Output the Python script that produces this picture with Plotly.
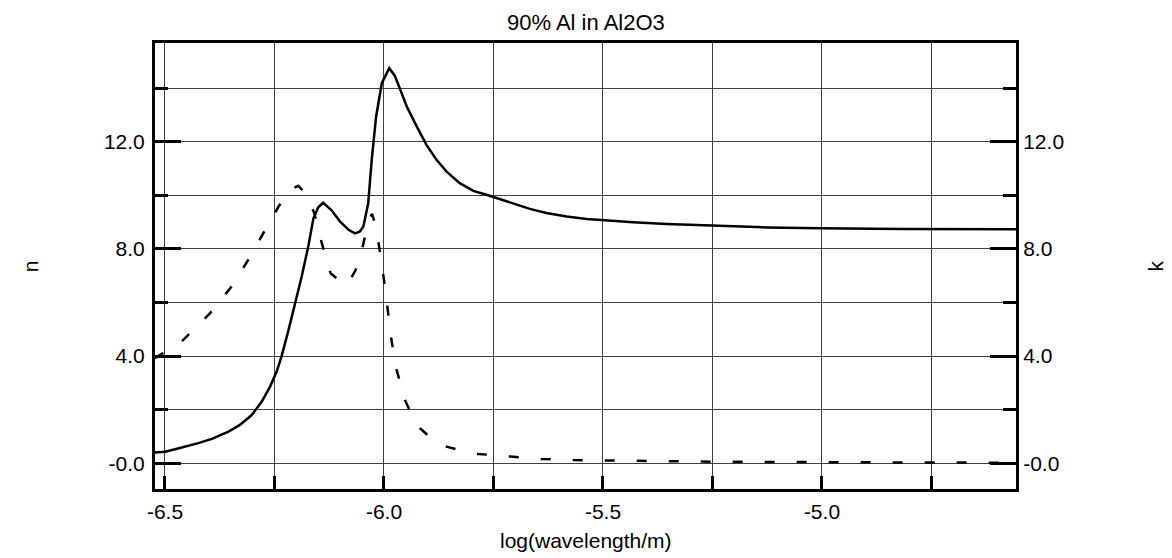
import plotly.graph_objects as go

# n (solid) : log(wavelength/m) vs n
n_x = [-6.523, -6.500, -6.477, -6.447, -6.424, -6.393, -6.355, -6.329, -6.302, -6.279,
       -6.260, -6.245, -6.234, -6.218, -6.203, -6.188, -6.173, -6.161, -6.150, -6.139,
       -6.120, -6.100, -6.080, -6.066, -6.055, -6.047, -6.036, -6.028, -6.018, -6.005,
       -5.988, -5.975, -5.963, -5.948, -5.925, -5.903, -5.880, -5.857, -5.827, -5.796,
       -5.766, -5.740, -5.705, -5.667, -5.629, -5.583, -5.537, -5.507, -5.476, -5.431,
       -5.355, -5.252, -5.126, -5.005, -4.822, -4.557]
n_y = [0.40, 0.43, 0.52, 0.64, 0.75, 0.91, 1.18, 1.43, 1.80, 2.30,
       2.86, 3.42, 3.98, 4.97, 5.97, 6.96, 8.08, 9.14, 9.55, 9.72,
       9.45, 9.01, 8.70, 8.58, 8.65, 8.83, 9.70, 11.32, 12.93, 14.18,
       14.74, 14.45, 13.95, 13.31, 12.56, 11.88, 11.32, 10.88, 10.45, 10.16,
       10.02, 9.88, 9.68, 9.49, 9.34, 9.21, 9.11, 9.07, 9.03, 8.99,
       8.93, 8.86, 8.80, 8.77, 8.74, 8.73]

# k (dashed)
k_x = [-6.523, -6.462, -6.397, -6.348, -6.310, -6.276, -6.241, -6.215, -6.196, -6.180,
       -6.159, -6.142, -6.122, -6.100, -6.084, -6.065, -6.051, -6.035, -6.027, -6.020,
       -6.014, -6.000, -5.991, -5.982, -5.971, -5.952, -5.935, -5.918, -5.890, -5.857,
       -5.820, -5.785, -5.712, -5.640, -5.568, -5.495, -5.400, -5.250, -5.000, -4.750,
       -4.557]
k_y = [3.92, 4.54, 5.60, 6.59, 7.59, 8.58, 9.57, 10.20, 10.35, 10.10,
       9.33, 8.21, 7.09, 6.80, 6.65, 7.20, 7.90, 9.10, 9.30, 8.90,
       8.40, 6.84, 5.66, 4.50, 3.48, 2.36, 1.75, 1.31, 0.90, 0.62,
       0.46, 0.35, 0.25, 0.16, 0.12, 0.10, 0.08, 0.06, 0.04, 0.03,
       0.02]

x_major = [-6.5, -6.0, -5.5, -5.0]
x_major_text = ["-6.5", "-6.0", "-5.5", "-5.0"]
x_minor = [-6.25, -5.75, -5.25, -4.75]
y_major = [0, 4, 8, 12]
y_major_text = ["-0.0", "4.0", "8.0", "12.0"]
y_minor = [2, 6, 10, 14]

title_text = "90% Al in Al2O3"
x_title = "log(wavelength/m)"
y_title = "n"
y2_title = "k"

FONT = "Liberation Sans, Arial, sans-serif"
FS = 21
GRID = "#404040"

fig = go.Figure()
fig.add_trace(go.Scatter(x=n_x, y=n_y, mode="lines", yaxis="y",
                         line=dict(color="black", width=2.5), showlegend=False))
fig.add_trace(go.Scatter(x=k_x, y=k_y, mode="lines", yaxis="y2",
                         line=dict(color="black", width=2.5, dash="10px,22px"), showlegend=False))

yrange = [-0.96, 15.68]
common_y = dict(range=yrange, tickmode="array", tickvals=y_major, ticktext=y_major_text,
                ticks="inside", ticklen=26, tickwidth=3, tickcolor="black",
                showline=True, linewidth=3, linecolor="black",
                zeroline=False, showgrid=True, gridcolor=GRID, gridwidth=1,
                tickfont=dict(family=FONT, size=FS, color="black"),
                minor=dict(tickmode="array", tickvals=y_minor, ticks="inside", ticklen=13,
                           tickwidth=3, tickcolor="black", showgrid=True,
                           gridcolor=GRID, gridwidth=1),
                fixedrange=True)

fig.update_layout(
    width=1172, height=558,
    margin=dict(l=155, r=156, t=43, b=69),
    paper_bgcolor="white", plot_bgcolor="white",
    xaxis=dict(range=[-6.5228, -4.557], tickmode="array", tickvals=x_major, ticktext=x_major_text,
               ticks="inside", ticklen=13, tickwidth=3, tickcolor="black",
               showline=True, linewidth=3, linecolor="black", mirror=True,
               zeroline=False, showgrid=True, gridcolor=GRID, gridwidth=1,
               tickfont=dict(family=FONT, size=FS, color="black"),
               ticklabelstandoff=2,
               minor=dict(tickmode="array", tickvals=x_minor, ticks="inside", ticklen=13,
                          tickwidth=3, tickcolor="black", showgrid=True,
                          gridcolor=GRID, gridwidth=1)),
    yaxis=dict(**common_y, side="left", ticklabelstandoff=3),
    yaxis2=dict(**common_y, side="right", overlaying="y", ticklabelstandoff=0),
    annotations=[
        dict(text=title_text, x=0.5, y=1.047, xref="paper", yref="paper", showarrow=False,
             xanchor="center", yanchor="middle", font=dict(family=FONT, size=22, color="black")),
        dict(text=x_title, x=0.5, y=-0.116, xref="paper", yref="paper", showarrow=False,
             xanchor="center", yanchor="middle", font=dict(family=FONT, size=FS, color="black")),
        dict(text=y_title, x=-0.145, y=0.5, xref="paper", yref="paper", showarrow=False,
             textangle=-90, xanchor="center", yanchor="middle",
             font=dict(family=FONT, size=FS, color="black")),
        dict(text=y2_title, x=1.161, y=0.5, xref="paper", yref="paper", showarrow=False,
             textangle=-90, xanchor="center", yanchor="middle",
             font=dict(family=FONT, size=FS, color="black")),
    ],
)

fig.write_html("out.html")
